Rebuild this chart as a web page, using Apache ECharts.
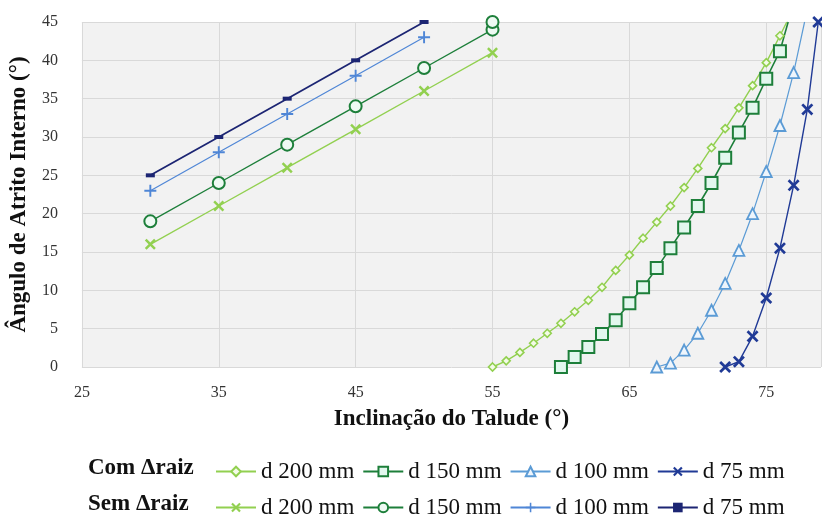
<!DOCTYPE html>
<html>
<head>
<meta charset="utf-8">
<script src="https://cdn.jsdelivr.net/npm/echarts@6/dist/echarts.min.js"></script>
<style>html,body{margin:0;padding:0;background:#fff}#c{width:822px;height:520px}</style>
</head>
<body>
<div id="c"></div>
<script>
// ---- Data (x = Inclinação do Talude, y = Ângulo de Atrito Interno) ----
var xTicks = [25, 35, 45, 55, 65, 75];
var yTicks = [0, 5, 10, 15, 20, 25, 30, 35, 40, 45];

// Com Δraiz
var com200 = [[55,0],[56,0.8],[57,1.9],[58,3.1],[59,4.4],[60,5.7],[61,7.2],[62,8.7],[63,10.4],[64,12.6],[65,14.6],[66,16.8],[67,18.9],[68,21],[69,23.4],[70,25.9],[71,28.6],[72,31.1],[73,33.8],[74,36.7],[75,39.7],[76,43.2],[76.5,45]];
var com150 = [[60,0],[61,1.3],[62,2.6],[63,4.3],[64,6.1],[65,8.3],[66,10.4],[67,12.9],[68,15.5],[69,18.2],[70,21],[71,24],[72,27.3],[73,30.6],[74,33.8],[75,37.6],[76,41.2],[76.6,45]];
var com100 = [[67,0],[68,0.5],[69,2.2],[70,4.4],[71,7.4],[72,10.9],[73,15.2],[74,20],[75,25.5],[76,31.5],[77,38.4],[77.8,45]];
var com75  = [[72,0],[73,0.7],[74,4],[75,9],[76,15.5],[77,23.7],[78,33.6],[78.8,45]];

// Sem Δraiz
var sem200 = [[30,16],[35,21],[40,26],[45,31],[50,36],[55,41]];
var sem150 = [[30,19],[35,24],[40,29],[45,34],[50,39],[55,44],[55,45]];
var sem100 = [[30,23],[35,28],[40,33],[45,38],[50,43]];
var sem75  = [[30,25],[35,30],[40,35],[45,40],[50,45]];

var seriesNames = ['d 200 mm','d 150 mm','d 100 mm','d 75 mm'];
var rowLabels = ['Com \u0394raiz','Sem \u0394raiz'];
var xTitle = 'Inclina\u00e7\u00e3o do Talude (\u00b0)';
var yTitle = '\u00c2ngulo de Atrito Interno (\u00b0)';

var FONT = '"Liberation Serif", "Times New Roman", serif';
var X_PATH = 'path://M0,1.6L1.6,0L5,3.4L8.4,0L10,1.6L6.6,5L10,8.4L8.4,10L5,6.6L1.6,10L0,8.4L3.4,5Z';
var PLUS_PATH = 'path://M4.2,0H5.8V4.2H10V5.8H5.8V10H4.2V5.8H0V4.2H4.2Z';

var cLight = '#92d050', cDark = '#1d7f3a', cBlue = '#5b9bd5', cNavy = '#203a96', cBlue2 = '#4f86d6', cNavy2 = '#1c2573';

// hide marker on points that only carry the line to the top edge
function endNoMarker(arr) {
  return arr.map(function (p, i) {
    return i === arr.length - 1 ? {value: p, symbol: 'none'} : p;
  });
}

function mk(name, data, color, symbol, size, fill, lw, border) {
  return {
    name: name, type: 'line', data: data, clip: false,
    symbol: symbol, symbolSize: size, showAllSymbol: true,
    lineStyle: {color: color, width: lw},
    itemStyle: {color: fill, borderColor: color, borderWidth: border},
    emphasis: {disabled: true}, z: 3
  };
}

var series = [
  mk('Com ' + seriesNames[0], endNoMarker(com200), cLight, 'diamond', 8, '#f4fbe8', 1.4, 1.6),
  mk('Com ' + seriesNames[1], endNoMarker(com150), cDark, 'rect', 12, '#e2f7ee', 1.6, 2),
  mk('Com ' + seriesNames[2], endNoMarker(com100), cBlue, 'triangle', 11, '#eef5fc', 1.2, 1.8),
  mk('Com ' + seriesNames[3], com75, cNavy, X_PATH, 12, cNavy, 1.4, 0),
  mk('Sem ' + seriesNames[0], sem200, cLight, X_PATH, 11, cLight, 1.4, 0),
  mk('Sem ' + seriesNames[1], sem150, cDark, 'circle', 12, '#eefaf3', 1.4, 2),
  mk('Sem ' + seriesNames[2], sem100, cBlue2, PLUS_PATH, 12, cBlue2, 1.2, 0),
  mk('Sem ' + seriesNames[3], sem75, cNavy2, 'rect', [9, 4], cNavy2, 1.8, 0)
];

var legendBase = {
  orient: 'horizontal', itemGap: 8, itemWidth: 40, itemHeight: 12,
  textStyle: {fontFamily: FONT, fontSize: 23, color: '#111'},
  formatter: function (n) { return n.replace(/^(Com|Sem) /, ''); },
  selectedMode: false
};

var chart = echarts.init(document.getElementById('c'), null, {renderer: 'canvas'});
chart.setOption({
  animation: false,
  backgroundColor: '#ffffff',
  grid: {left: 79, right: 1, top: 22, bottom: 153, show: true, backgroundColor: '#f2f2f2', borderWidth: 0},
  xAxis: {
    type: 'value', min: xTicks[0], max: 79, interval: 10,
    name: xTitle, nameLocation: 'middle', nameGap: 41,
    nameTextStyle: {fontFamily: FONT, fontSize: 23, fontWeight: 'bold', color: '#111'},
    axisLine: {show: false}, axisTick: {show: false},
    axisLabel: {fontFamily: FONT, fontSize: 16, color: '#333', margin: 18, showMaxLabel: false,
      formatter: function (v) { return xTicks.indexOf(v) >= 0 ? String(v) : ''; }},
    splitLine: {show: true, lineStyle: {color: '#d9d9d9', width: 1}}
  },
  yAxis: {
    type: 'value', min: yTicks[0], max: yTicks[yTicks.length - 1], interval: 5,
    name: yTitle, nameLocation: 'middle', nameGap: 46,
    nameTextStyle: {fontFamily: FONT, fontSize: 23, fontWeight: 'bold', color: '#111'},
    axisLine: {show: false}, axisTick: {show: false},
    axisLabel: {fontFamily: FONT, fontSize: 16, color: '#333', margin: 24},
    splitLine: {show: true, lineStyle: {color: '#d9d9d9', width: 1}}
  },
  legend: [
    Object.assign({}, legendBase, {left: 210, top: 455, data: series.slice(0, 4).map(function (s) { return s.name; })}),
    Object.assign({}, legendBase, {left: 210, top: 491, data: series.slice(4).map(function (s) { return s.name; })})
  ],
  graphic: [
    {type: 'text', x: 88, y: 468, style: {text: rowLabels[0], font: 'bold 23px ' + FONT, fill: '#111', verticalAlign: 'middle'}},
    {type: 'text', x: 88, y: 504, style: {text: rowLabels[1], font: 'bold 23px ' + FONT, fill: '#111', verticalAlign: 'middle'}}
  ],
  series: series
});
</script>
</body>
</html>
